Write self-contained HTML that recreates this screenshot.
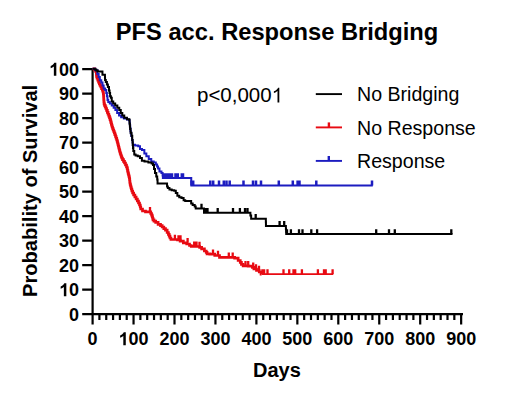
<!DOCTYPE html>
<html><head><meta charset="utf-8"><style>
html,body{margin:0;padding:0;background:#fff;}
svg{display:block;}
text{font-family:"Liberation Sans",sans-serif;fill:#000;}
.tk{font-size:18px;font-weight:bold;}
.ttl{font-size:23.7px;font-weight:bold;}
.lab{font-size:20px;font-weight:bold;}
.leg{font-size:19.6px;}
.pv{font-size:20.5px;}
</style></head><body>
<svg width="520" height="399" viewBox="0 0 520 399">
<rect width="520" height="399" fill="#fff"/>
<text x="115.8" y="39.7" class="ttl">PFS acc. Response Bridging</text>
<text transform="translate(36.5 297) rotate(-90)" class="lab" style="font-size:20.1px">Probability of Survival</text>
<text x="253" y="376.5" class="lab">Days</text>
<path d="M92.6 68.2V315.2M82.2 314.20H92.6M82.2 289.70H92.6M82.2 265.20H92.6M82.2 240.70H92.6M82.2 216.20H92.6M82.2 191.70H92.6M82.2 167.20H92.6M82.2 142.70H92.6M82.2 118.20H92.6M82.2 93.70H92.6M82.2 69.20H92.6M91.6 314.2H463M92.60 314.2V324.6M99.42 314.2V319.9M106.25 314.2V319.9M113.07 314.2V319.9M119.90 314.2V319.9M126.72 314.2V319.9M133.55 314.2V324.6M140.38 314.2V319.9M147.20 314.2V319.9M154.03 314.2V319.9M160.85 314.2V319.9M167.68 314.2V319.9M174.50 314.2V324.6M181.32 314.2V319.9M188.15 314.2V319.9M194.97 314.2V319.9M201.80 314.2V319.9M208.62 314.2V319.9M215.45 314.2V324.6M222.27 314.2V319.9M229.10 314.2V319.9M235.92 314.2V319.9M242.75 314.2V319.9M249.57 314.2V319.9M256.40 314.2V324.6M263.22 314.2V319.9M270.05 314.2V319.9M276.88 314.2V319.9M283.70 314.2V319.9M290.52 314.2V319.9M297.35 314.2V324.6M304.18 314.2V319.9M311.00 314.2V319.9M317.83 314.2V319.9M324.65 314.2V319.9M331.48 314.2V319.9M338.30 314.2V324.6M345.12 314.2V319.9M351.95 314.2V319.9M358.78 314.2V319.9M365.60 314.2V319.9M372.43 314.2V319.9M379.25 314.2V324.6M386.07 314.2V319.9M392.90 314.2V319.9M399.73 314.2V319.9M406.55 314.2V319.9M413.38 314.2V319.9M420.20 314.2V324.6M427.03 314.2V319.9M433.85 314.2V319.9M440.68 314.2V319.9M447.50 314.2V319.9M454.33 314.2V319.9M461.15 314.2V324.6" stroke="#000" stroke-width="2.2" fill="none"/>
<text x="69.09" y="320.70" class="tk">0</text><path transform="translate(59.08 296.20) scale(0.00879 -0.00879)" d="M825 0L544 0L544 1059Q390 915 181 846L181 1101Q291 1137 420 1237Q549 1337 597 1466L825 1466Z"/><text x="69.09" y="296.20" class="tk">0</text><text x="59.08" y="271.70" class="tk">20</text><text x="59.08" y="247.20" class="tk">30</text><text x="59.08" y="222.70" class="tk">40</text><text x="59.08" y="198.20" class="tk">50</text><text x="59.08" y="173.70" class="tk">60</text><text x="59.08" y="149.20" class="tk">70</text><text x="59.08" y="124.70" class="tk">80</text><text x="59.08" y="100.20" class="tk">90</text><path transform="translate(49.07 75.70) scale(0.00879 -0.00879)" d="M825 0L544 0L544 1059Q390 915 181 846L181 1101Q291 1137 420 1237Q549 1337 597 1466L825 1466Z"/><text x="59.08" y="75.70" class="tk">00</text>
<text x="87.59" y="345.20" class="tk">0</text><path transform="translate(118.53 345.20) scale(0.00879 -0.00879)" d="M825 0L544 0L544 1059Q390 915 181 846L181 1101Q291 1137 420 1237Q549 1337 597 1466L825 1466Z"/><text x="128.54" y="345.20" class="tk">00</text><text x="159.48" y="345.20" class="tk">200</text><text x="200.43" y="345.20" class="tk">300</text><text x="241.38" y="345.20" class="tk">400</text><text x="282.33" y="345.20" class="tk">500</text><text x="323.28" y="345.20" class="tk">600</text><text x="364.23" y="345.20" class="tk">700</text><text x="405.18" y="345.20" class="tk">800</text><text x="446.13" y="345.20" class="tk">900</text>
<path d="M92.60 68.80H93.45 V68.80H94.30H94.80 V70.25H95.80 V71.70H96.30H96.35 V73.23H96.45 V74.77H96.55 V76.30H96.60H97.00 V78.25H97.80 V80.20H98.20H98.58 V82.10H99.33 V84.00H99.70H100.08 V85.50H100.83 V87.00H101.20H101.60 V88.60H102.40 V90.20H102.80H102.97 V92.00H103.33 V93.80H103.50H103.54 V95.35H103.61 V96.90H103.69 V98.45H103.76 V100.00H103.80H103.90 V101.90H104.10 V103.80H104.20H104.53 V105.37H105.20 V106.93H105.87 V108.50H106.20H106.58 V110.40H107.33 V112.30H107.70H108.08 V114.25H108.83 V116.20H109.20H109.50 V117.90H110.10 V119.60H110.40H110.59 V121.08H110.97 V122.56H111.35 V124.04H111.73 V125.52H112.11 V127.00H112.30H112.59 V128.50H113.16 V130.00H113.74 V131.50H114.31 V133.00H114.60H114.90 V134.75H115.50 V136.50H116.10 V138.25H116.70 V140.00H117.00H117.19 V141.50H117.56 V143.00H117.94 V144.50H118.31 V146.00H118.50H118.69 V147.50H119.06 V149.00H119.44 V150.50H119.81 V152.00H120.00H120.25 V153.50H120.75 V155.00H121.25 V156.50H121.75 V158.00H122.00H122.50 V159.67H123.50 V161.33H124.50 V163.00H125.00H125.50 V165.00H126.50 V167.00H127.00H127.17 V168.67H127.50 V170.33H127.83 V172.00H128.00H128.19 V173.50H128.56 V175.00H128.94 V176.50H129.31 V178.00H129.50H129.58 V179.67H129.75 V181.33H129.92 V183.00H130.00H130.19 V184.50H130.56 V186.00H130.94 V187.50H131.31 V189.00H131.50H131.88 V191.00H132.62 V193.00H133.00H133.62 V195.00H134.88 V197.00H135.50H136.12 V199.00H137.38 V201.00H138.00H138.50 V203.00H139.50 V205.00H140.00H140.25 V207.00H140.75 V209.00H141.00H142.50 V211.00H144.00H145.50 V211.80H147.00H148.65 V211.80H150.30H150.73 V213.50H151.57 V215.20H152.00H152.20 V216.73H152.60 V218.27H153.00 V219.80H153.20H154.02 V221.10H155.68 V222.40H156.50H158.10 V224.40H159.70H160.52 V225.70H162.18 V227.00H163.00H163.82 V228.60H165.48 V230.20H166.30H167.15 V232.50H168.00H168.40 V234.33H169.20 V236.17H170.00 V238.00H170.40H170.95 V239.50H171.50H174.00 V239.50H176.50H177.50 V240.00H178.50H180.15 V241.20H181.80H183.35 V242.80H184.90H186.70 V244.00H188.50H189.50 V245.50H190.50H191.25 V246.30H192.00H195.50 V246.50H199.00H199.65 V247.40H200.30H201.65 V248.80H203.00H204.40 V251.00H205.80H206.23 V252.40H207.07 V253.80H207.50H209.75 V254.20H212.00H214.75 V255.50H217.50H219.50 V257.30H221.50H227.10 V257.30H232.70H234.65 V258.20H236.60H238.15 V260.50H239.70H240.27 V262.40H241.43 V264.30H242.00H243.15 V265.80H244.30H248.15 V266.20H252.00H252.40 V267.40H252.80H253.90 V269.00H255.00H256.50 V270.50H258.00H259.25 V272.00H260.50H261.05 V274.10H261.60H261.61" stroke="#e80a12" stroke-width="2.7" fill="none"/>
<path d="M261.60 274.10H333.30" stroke="#e80a12" stroke-width="1.8" fill="none"/>
<path d="M150.00 211.80V207.00M174.90 239.50V234.70M178.50 240.00V235.20M180.50 240.00V235.20M187.60 242.80V238.00M194.20 246.30V241.50M196.50 246.30V241.50M199.50 246.50V241.70M213.00 254.20V249.40M218.00 255.50V250.70M228.80 257.30V252.50M232.70 257.30V252.50M245.50 265.80V261.00M248.20 265.80V261.00M253.20 267.40V262.60M256.00 269.00V264.20M259.00 270.50V265.70M262.40 274.10V269.30M264.10 274.10V269.30M267.50 274.10V269.30M283.50 274.10V269.30M289.20 274.10V269.30M293.50 274.10V269.30M295.20 274.10V269.30M301.90 274.10V269.30M317.90 274.10V269.30M324.00 274.10V269.30M325.70 274.10V269.30M332.60 274.10V269.30" stroke="#e80a12" stroke-width="2.3" fill="none"/>
<path d="M92.60 68.80H93.40 V68.80H94.20H95.30 V70.20H96.40H97.35 V74.00H98.30H98.65 V77.00H99.00H99.80 V80.20H100.60H101.25 V82.50H101.90H102.50 V85.50H103.10H103.65 V88.60H104.20H105.10 V90.00H106.00H106.25 V93.00H106.50H106.90 V96.20H107.30H107.50 V100.00H107.70H108.25 V102.00H108.80H109.80 V103.50H110.80H111.75 V105.40H112.70H113.65 V107.70H114.60H115.40 V110.00H116.20H117.15 V113.10H118.10H119.05 V115.40H120.00H121.15 V117.30H122.30H123.85 V118.50H125.40H126.95 V119.60H128.50H129.00 V120.30H129.50H129.62 V122.65H129.88 V125.00H130.00H130.15 V128.00H130.45 V131.00H130.60H130.82 V133.50H131.28 V136.00H131.50H132.00 V140.00H132.50H132.62 V142.40H132.88 V144.80H133.00H134.95 V145.40H136.90H138.20 V146.20H139.50H140.00 V149.00H140.50H142.00 V150.00H143.50H144.35 V153.50H145.20H146.35 V156.20H147.50H148.75 V159.00H150.00H151.25 V161.50H152.50H153.75 V162.50H155.00H155.80 V164.50H156.60H157.10 V166.50H157.60H158.05 V168.50H158.50H159.45 V171.50H160.40H161.45 V173.00H162.50H162.62 V175.50H162.88 V178.00H163.00H177.10 V178.00H191.20H191.25 V181.70H191.35 V185.40H191.40H372.80" stroke="#1c1cc0" stroke-width="2" fill="none"/>
<path d="M163.50 178.00V173.20M165.20 178.00V173.20M167.00 178.00V173.20M168.80 178.00V173.20M170.50 178.00V173.20M172.00 178.00V173.20M175.50 178.00V173.20M177.80 178.00V173.20M181.80 178.00V173.20M183.00 178.00V173.20M191.50 185.40V180.60M193.20 185.40V180.60M210.30 185.40V180.60M213.20 185.40V180.60M219.00 185.40V180.60M223.80 185.40V180.60M226.50 185.40V180.60M229.70 185.40V180.60M243.50 185.40V180.60M253.00 185.40V180.60M256.00 185.40V180.60M261.00 185.40V180.60M278.80 185.40V180.60M292.80 185.40V180.60M297.60 185.40V180.60M299.50 185.40V180.60M316.30 185.40V180.60M372.00 185.40V180.60" stroke="#1c1cc0" stroke-width="2.5" fill="none"/>
<path d="M92.60 68.80H93.30 V68.80H94.00H94.75 V69.60H95.50H96.25 V70.60H97.00H97.75 V71.60H98.50H100.35 V71.60H102.20H102.45 V74.80H102.70H103.80 V74.80H104.90H104.95 V77.40H105.05 V80.00H105.10H105.80 V82.00H106.50H106.90 V84.50H107.30H107.90 V87.00H108.50H109.00 V90.50H109.50H109.55 V93.00H109.60H110.10 V96.20H110.60H110.90 V97.70H111.20H111.75 V101.50H112.30H113.25 V103.50H114.20H115.20 V105.40H116.20H117.35 V107.70H118.50H119.25 V110.00H120.00H120.75 V113.10H121.50H122.30 V115.40H123.10H124.25 V117.70H125.40H126.95 V119.20H128.50H128.90 V119.60H129.30H129.55 V123.80H129.80H129.90 V126.40H130.10 V129.00H130.20H130.60 V132.80H131.00H131.50 V135.80H132.00H132.25 V140.00H132.50H132.57 V142.50H132.73 V145.00H132.80H132.98 V148.00H133.32 V151.00H133.50H134.25 V154.50H135.00H135.60 V155.60H136.20H137.70 V156.20H139.20H140.00 V158.00H140.80H141.90 V160.80H143.00H144.50 V161.50H146.00H148.40 V162.50H150.80H151.65 V163.50H152.50H153.00 V165.00H153.50H154.00 V169.00H154.50H155.00 V173.00H155.50H156.25 V176.50H157.00H157.20 V179.50H157.40H157.55 V183.40H157.70H162.30 V183.40H166.90H167.05 V186.50H167.20H167.85 V188.00H168.50H169.45 V189.50H170.40H171.70 V190.30H173.00H174.20 V190.70H175.40H175.80 V193.00H176.20H177.35 V195.70H178.50H179.25 V197.20H180.00H181.50 V198.00H183.00H183.60 V200.30H184.20H185.20 V201.00H186.20H188.50 V201.00H190.80H191.15 V203.40H191.50H192.65 V205.00H193.80H194.70 V206.50H195.60H195.70 V208.60H195.80H199.80 V208.60H203.80H204.00 V212.80H204.20H227.25 V212.80H250.30H250.40 V215.50H250.50H251.15 V218.80H251.80H258.80 V218.80H265.80H265.85 V222.35H265.95 V225.90H266.00H275.90 V225.90H285.80H285.90 V229.30H286.00H286.07 V231.70H286.23 V234.10H286.30H452.50" stroke="#000" stroke-width="2" fill="none"/>
<path d="M201.50 208.60V203.80M205.50 212.80V208.00M207.50 212.80V208.00M217.70 212.80V208.00M233.00 212.80V208.00M239.90 212.80V208.00M245.00 212.80V208.00M247.50 212.80V208.00M255.70 218.80V214.00M279.60 225.90V221.10M284.20 225.90V221.10M287.00 234.10V229.30M290.90 234.10V229.30M299.00 234.10V229.30M302.50 234.10V229.30M311.30 234.10V229.30M317.10 234.10V229.30M376.20 234.10V229.30M389.00 234.10V229.30M394.80 234.10V229.30M451.30 234.10V229.30" stroke="#000" stroke-width="2.3" fill="none"/>
<text x="197.00" y="102.40" class="pv">p&lt;0,000</text><path transform="translate(271.67 102.40) scale(0.01001 -0.01001)" d="M763 0L583 0L583 1147Q518 1085 412 1023Q306 961 222 930L222 1104Q373 1175 486 1276Q599 1377 646 1472L763 1472Z"/>
<path d="M315.8 94.1H342" stroke="#000" stroke-width="1.9"/>
<path d="M315.8 127.4H342" stroke="#e80a12" stroke-width="1.9" fill="none"/><path d="M328.9 127.4V122.4" stroke="#e80a12" stroke-width="2.4" fill="none"/>
<path d="M315.8 160.9H342" stroke="#1c1cc0" stroke-width="1.9" fill="none"/><path d="M328.8 160.9V156" stroke="#1c1cc0" stroke-width="2.4" fill="none"/>
<text x="357" y="101.1" class="leg">No Bridging</text>
<text x="357" y="134.7" class="leg">No Response</text>
<text x="357" y="167.7" class="leg">Response</text>
</svg>
</body></html>
